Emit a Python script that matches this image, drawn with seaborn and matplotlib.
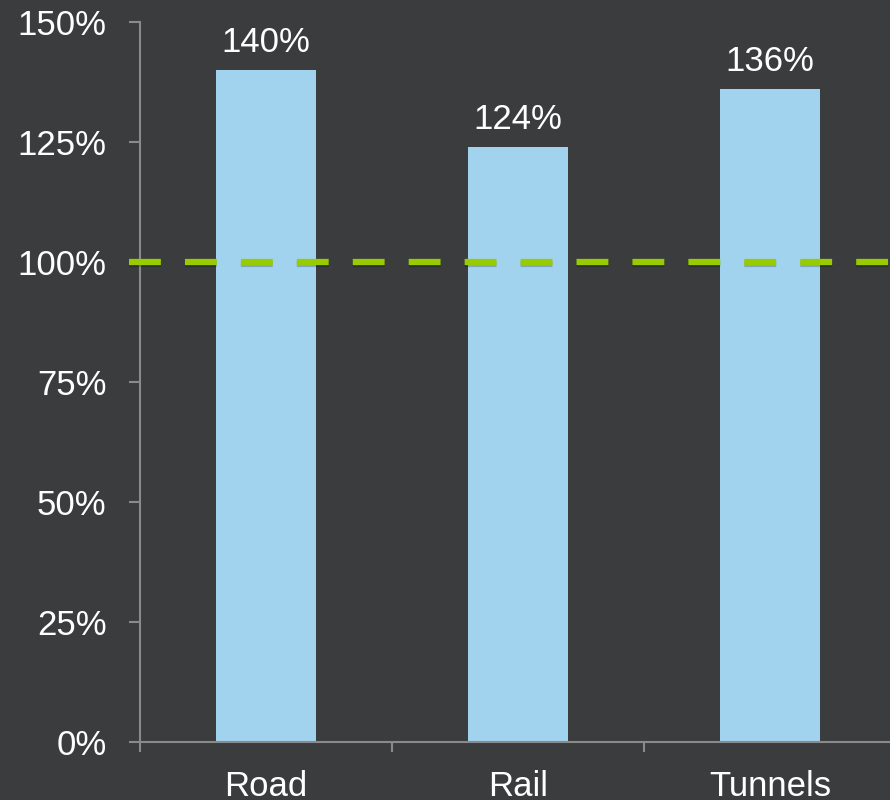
import matplotlib
matplotlib.use("Agg")
import matplotlib.pyplot as plt
import matplotlib.patheffects as pe
from matplotlib.ticker import FixedLocator, PercentFormatter
import pandas as pd
import seaborn as sns

# data
categories = ["Road", "Rail", "Tunnels"]
values = [140, 124, 136]
baseline = 100
y_ticks = [0, 25, 50, 75, 100, 125, 150]

bg = "#3b3c3e"
bar_col = "#a1d3ef"
axis_col = "#8a8a8a"
line_col = "#99cc00"

sns.set_style("dark")
plt.rcParams["font.family"] = ["Liberation Sans", "DejaVu Sans"]

df = pd.DataFrame({"cat": categories, "val": values})

fig = plt.figure(figsize=(8.9, 8), dpi=100, facecolor=bg)
# axes runs past the right edge like the original slide
ax = fig.add_axes([140 / 890, 58 / 800, 756 / 890, 720 / 800])
ax.set_facecolor(bg)

sns.barplot(data=df, x="cat", y="val", color=bar_col, width=0.4,
            saturation=1, linewidth=0, ax=ax)

ax.set_xlim(-0.5, 2.5)
ax.set_ylim(0, 150)
ax.set_yticks(y_ticks)
ax.yaxis.set_major_formatter(PercentFormatter(decimals=0))
ax.xaxis.set_minor_locator(FixedLocator([-0.5, 0.5, 1.5, 2.5]))
ax.set_xlabel("")
ax.set_ylabel("")
ax.grid(False)

for side in ["top", "right"]:
    ax.spines[side].set_visible(False)
for side in ["left", "bottom"]:
    ax.spines[side].set_visible(True)
    ax.spines[side].set_color(axis_col)
    ax.spines[side].set_linewidth(1.5)

ax.tick_params(axis="y", which="major", direction="out", length=8, width=1.5,
               color=axis_col, labelcolor="white", labelsize=25, pad=16, left=True)
ax.tick_params(axis="x", which="major", length=0, labelcolor="white",
               labelsize=25, pad=20)
ax.tick_params(axis="x", which="minor", direction="out", length=7, width=1.5,
               color=axis_col, bottom=True)

for c in ax.containers:
    ax.bar_label(c, labels=[f"{v}%" for v in values], color="white",
                 fontsize=25, padding=8)

# 100% reference line, starts at the tick marks
x0 = -0.5 - 11 / 252
ax.plot([x0, 2.6], [baseline, baseline], color=line_col, lw=4.5,
        dashes=(5.1, 3.85), clip_on=False, zorder=5,
        path_effects=[pe.SimpleLineShadow(offset=(0, -1.5), alpha=0.2),
                      pe.Normal()])

fig.savefig("out.png", dpi=100, facecolor=bg)
